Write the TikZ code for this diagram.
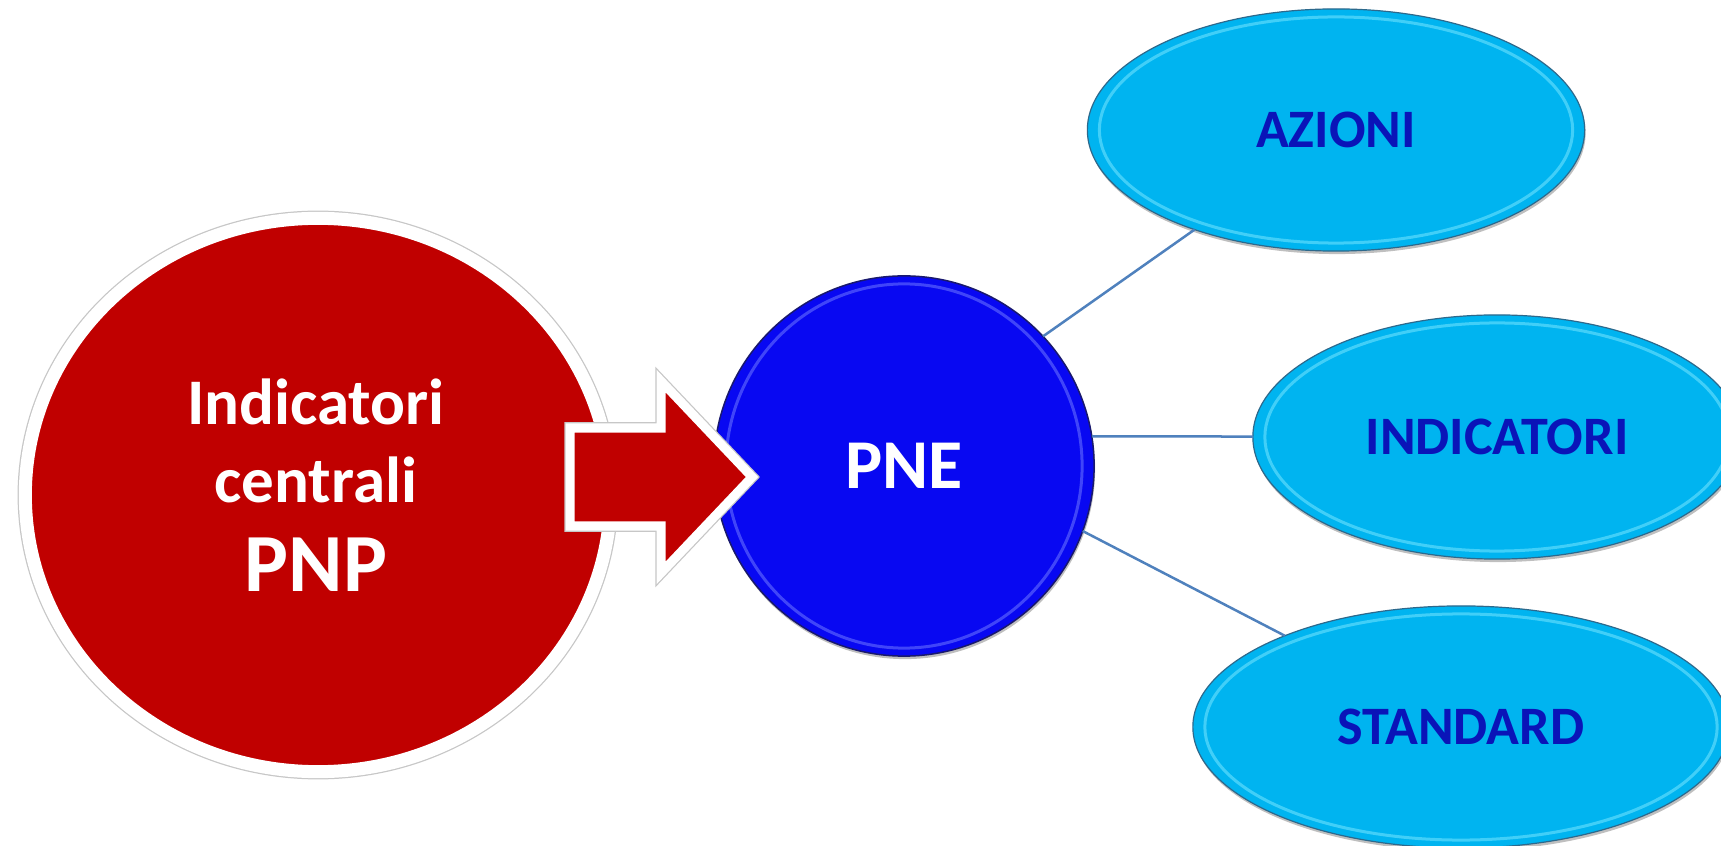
\documentclass[tikz,border=0pt]{standalone}
\usepackage{fontspec}
\setmainfont{Carlito}
\usepackage{tikz}
\usetikzlibrary{positioning, shapes, calc, shadows}
\definecolor{pnpred}{RGB}{192,0,0}
\definecolor{pneblue}{RGB}{8,8,242}
\definecolor{pneedge}{RGB}{25,25,110}
\definecolor{pnerim}{RGB}{110,120,255}
\definecolor{skyfill}{RGB}{0,180,240}
\definecolor{skyrim}{RGB}{120,230,255}
\definecolor{skyedge}{RGB}{45,105,140}
\definecolor{labelblue}{RGB}{10,20,184}
\definecolor{spokeblue}{RGB}{79,129,189}
\tikzset{
	rim/.style={path picture={\draw[#1, line width=0.03cm, opacity=0.55]
		let \p1=(path picture bounding box.north east), \p2=(path picture bounding box.center)
		in (\p2) ellipse [x radius={\x1-\x2-0.12cm}, y radius={\y1-\y2-0.08cm}];}},
	softshadow/.style={drop shadow={shadow xshift=0.01cm, shadow yshift=-0.03cm, opacity=0.25, fill=black}},
	halo/.style={preaction={draw=black!22, line width=#1}},
	bubble/.style={ellipse, inner sep=0pt, outer sep=0pt, fill=skyfill, draw=skyedge, line width=0.012cm,
		text=labelblue, font=\fontsize{15.4}{18}\selectfont\bfseries, softshadow, rim=skyrim},
	spoke/.style={spokeblue, line width=0.025cm},
	blockarrow/.style={fill=pnpred, draw=white, line width=0.09cm, halo=0.115cm, softshadow},
}
\begin{document}
\begin{tikzpicture}[x=0.01cm, y=-0.01cm]
		\fill[white] (0,0) rectangle (1721,846);
		\useasboundingbox (0,0) rectangle (1721,846);
		\clip (0,0) rectangle (1721,846);
		
		\node[ellipse, inner sep=0pt, outer sep=0pt, minimum width=5.85cm, minimum height=5.53cm,
			fill=pnpred, draw=white, line width=0.13cm, halo=0.155cm, softshadow] (pnp) at (318,495) {};
		\node[align=center, text=white, font=\fontsize{18.5}{22.2}\selectfont\bfseries] (pnpnote) at (316,485)
			{Indicatori\\centrali\\[3.1pt]{\fontsize{23.5}{26}\selectfont PNP}};
		
		\node[circle, inner sep=0pt, outer sep=0pt, minimum size=3.8cm, fill=pneblue, draw=pneedge,
			line width=0.015cm, softshadow, rim=pnerim, text=white,
			font=\fontsize{19.9}{24}\selectfont\bfseries] (pne) at (904,466) {PNE};
		
		\draw[blockarrow] (570,428) -- ++(91,0) -- ++(0,-47) -- (752,477) -- (661,573) -- ++(0,-47) -- (570,526) -- cycle;
		
		\node[bubble, minimum width=4.97cm, minimum height=2.42cm] (azioni) at (1336,130) {AZIONI};
		\node[bubble, minimum width=4.88cm, minimum height=2.44cm] (indicatori) at (1497,437) {INDICATORI};
		\node[bubble, minimum width=5.36cm, minimum height=2.42cm] (standard) at (1461,727) {STANDARD};
		
		\draw[spoke] (pne.43) -- (azioni);
		\draw[spoke] (pne.9) -- (indicatori);
		\draw[spoke] (pne.-20) -- (standard);
\end{tikzpicture}
\end{document}
